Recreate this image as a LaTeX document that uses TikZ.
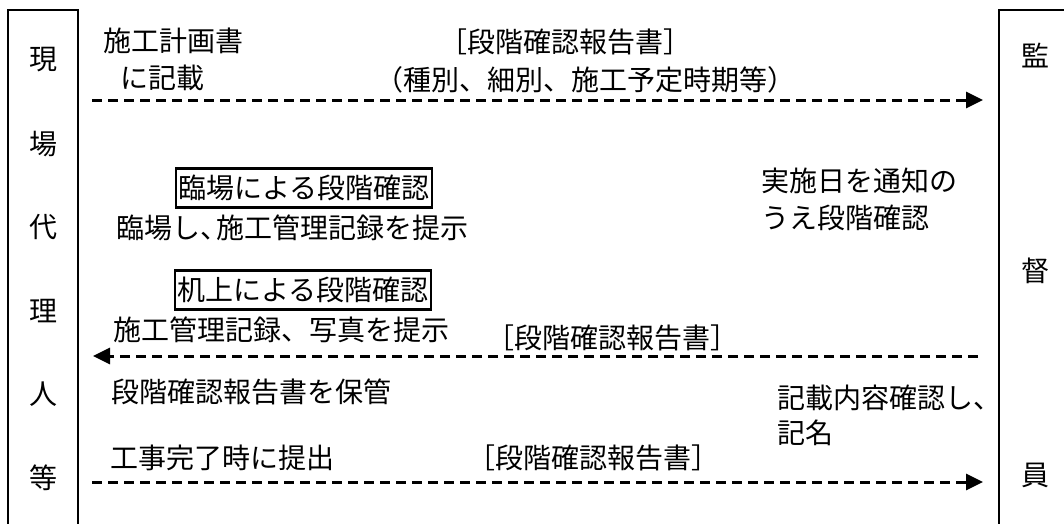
\documentclass[tikz,border=0pt]{standalone}
\usepackage{fontspec}
\setmainfont{Noto Sans CJK JP}
\usetikzlibrary{arrows.meta}
\begin{document}
\begin{tikzpicture}[x=1pt,y=-1pt,
  every node/.style={inner sep=0pt,outer sep=0pt,font=\fontsize{28}{32}\selectfont},
  lbl/.style={anchor=west},
  frame/.style={draw=black,line width=2pt},
  boxed/.style={draw=black,line width=2.4pt,minimum width=256pt,minimum height=39pt},
  dasharrow/.style={line width=3pt,dash pattern=on 10pt off 6pt,-{Triangle[length=17pt,width=16pt]}}
]
\useasboundingbox (0,0) rectangle (1064,523);
\begin{scope}
\clip (0,0) rectangle (1064,523);
% side frames (open at the bottom / right)
\node[frame,anchor=north west,minimum width=70pt,minimum height=540pt] (left) at (8,10) {};
\node[frame,anchor=north west,minimum width=100pt,minimum height=540pt] (right) at (999,10) {};
\end{scope}
% left column
\node (l1) at (43,60) {現};
\node (l2) at (43,144) {場};
\node (l3) at (43,227) {代};
\node (l4) at (43,311) {理};
\node (l5) at (43,394) {人};
\node (l6) at (43,478) {等};
% right column
\node (r1) at (1035,56) {監};
\node (r2) at (1035,271) {督};
\node (r3) at (1035,475) {員};
% row 1
\node[lbl] (t1) at (103,41) {施工計画書};
\node[lbl] (t2) at (120,78) {に記載};
\node (t3) at (565,42) {［段階確認報告書］};
\node (t4) at (585,80) {（種別、細別、施工予定時期等）};
\coordinate (a1s) at (92,100);
\coordinate (a1e) at (983,100);
\draw[dasharrow] (a1s) -- (a1e);
% boxed labels
\node[boxed] (b1) at (304,188) {臨場による段階確認};
\node[lbl] (t5) at (116,228) {臨場し、\kern-0.4em 施工管理記録を提示};
\node[lbl] (t6) at (761,181) {実施日を通知の};
\node[lbl] (t7) at (761,218) {うえ段階確認};
\node[boxed] (b2) at (303,290) {机上による段階確認};
\node[lbl] (t8) at (113,330) {施工管理記録、写真を提示};
\node (t9) at (612,338) {［段階確認報告書］};
\coordinate (a2s) at (978,356);
\coordinate (a2e) at (93,356);
\draw[dasharrow] (a2s) -- (a2e);
\node[lbl] (t10) at (111,392) {段階確認報告書を保管};
\node[lbl] (t11) at (777,398) {記載内容確認し、};
\node[lbl] (t12) at (777,433) {記名};
\node[lbl] (t13) at (110,458) {工事完了時に提出};
\node (t14) at (593,458) {［段階確認報告書］};
\coordinate (a3s) at (92,482);
\coordinate (a3e) at (983,482);
\draw[dasharrow] (a3s) -- (a3e);
\end{tikzpicture}
\end{document}
